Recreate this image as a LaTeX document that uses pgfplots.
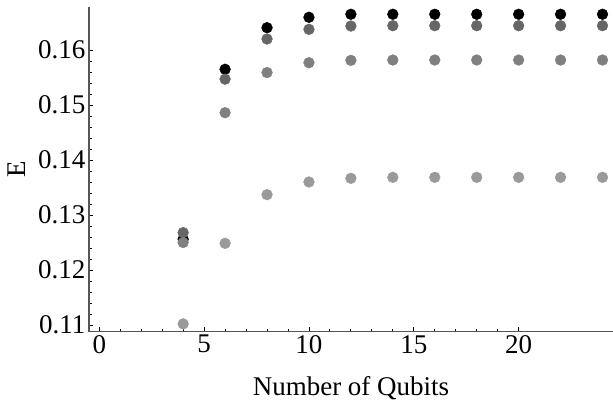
\documentclass[border=0pt]{standalone}
\usepackage{pgfplots}
\pgfplotsset{compat=1.18}
\usepackage{fontspec}
\setmainfont{Liberation Serif}

\definecolor{axgray}{HTML}{555555}
\definecolor{sdark}{HTML}{666666}
\definecolor{smid}{HTML}{808080}
\definecolor{slight}{HTML}{9A9A9A}

\begin{document}
\begin{tikzpicture}
\begin{axis}[
    scale only axis,
    width=524pt, height=324.7pt,
    xmin=-0.49, xmax=24.5,
    ymin=0.10878, ymax=0.16782,
    axis x line*=bottom,
    axis y line*=left,
    axis line style={axgray, line width=1.4pt},
    tick align=inside,
    tick style={black, line width=0.9pt},
    major tick length=4.5pt,
    minor tick length=2.8pt,
    xtick={0,5,10,15,20},
    ytick={0.11,0.12,0.13,0.14,0.15,0.16},
    minor x tick num=4,
    minor y tick num=4,
    font=\fontsize{27}{32}\selectfont,
    ticklabel style={font=\fontsize{27}{32}\selectfont},
    /pgf/number format/assume math mode=true,
    yticklabel style={/pgf/number format/.cd, fixed, fixed zerofill, precision=2},
    xlabel={Number of Qubits},
    ylabel={E},
    xlabel style={yshift=-16pt},
    ylabel style={yshift=6pt},
    clip=false,
    every axis plot/.append style={only marks, mark=*, mark size=5.4pt},
]
\addplot[color=black]
    coordinates {(4,0.1256)(6,0.1565)(8,0.16405)(10,0.16595)(12,0.1665)(14,0.1665)(16,0.1665)(18,0.1665)(20,0.1665)(22,0.1665)(24,0.1665)};
\addplot[color=sdark]
    coordinates {(4,0.1268)(6,0.1547)(8,0.1620)(10,0.16376)(12,0.16436)(14,0.16442)(16,0.16442)(18,0.16442)(20,0.16442)(22,0.16442)(24,0.16442)};
\addplot[color=smid]
    coordinates {(4,0.1250)(6,0.1486)(8,0.1559)(10,0.15769)(12,0.15812)(14,0.15818)(16,0.15818)(18,0.15818)(20,0.15818)(22,0.15818)(24,0.15818)};
\addplot[color=slight]
    coordinates {(4,0.1102)(6,0.12485)(8,0.1337)(10,0.1360)(12,0.13667)(14,0.13685)(16,0.13685)(18,0.13685)(20,0.13685)(22,0.13685)(24,0.13685)};
\end{axis}
\pgfresetboundingbox
\useasboundingbox ([shift={(-89pt,-69.3pt)}]current axis.south west) rectangle ([shift={(0pt,7pt)}]current axis.north east);
\end{tikzpicture}
\end{document}
